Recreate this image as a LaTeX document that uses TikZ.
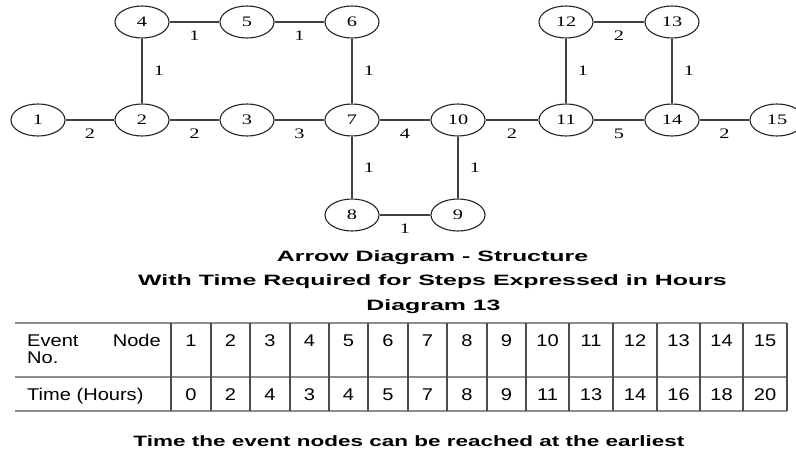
\documentclass[tikz,border=0pt]{standalone}
\usepackage{fontspec}
\setmainfont{Liberation Serif}
\setsansfont{Liberation Sans}
\usepackage{graphicx}
\usetikzlibrary{shapes.geometric}

% horizontally widened text
\newcommand\wideby[2]{\scalebox{#1}[1]{#2}}
\newcommand\evnum[1]{\wideby{1.4}{#1}}
\newcommand\captext[1]{\wideby{1.66}{#1}}
\newcommand\tabtext[1]{\wideby{1.18}{#1}}

\begin{document}
\begin{tikzpicture}[x=1pt,y=-1pt,
  event/.style={draw=black!85, line width=1.1pt, ellipse, minimum width=54pt,
    minimum height=32pt, inner sep=0pt, font=\fontsize{14.5}{14.5}\selectfont},
  link/.style={draw=black!75, line width=1.2pt},
  dur/.style={font=\fontsize{14.5}{14.5}\selectfont, inner sep=0pt},
  hdur/.style={dur, midway, yshift=-14pt},
  vdur/.style={dur, midway, xshift=17pt},
  caption/.style={font=\sffamily\bfseries\fontsize{15}{15}\selectfont, inner sep=0pt, anchor=base},
  cell/.style={font=\sffamily\fontsize{17}{17}\selectfont, inner sep=0pt, anchor=base},
  hrule/.style={draw=black!45, line width=1.2pt},
  vrule/.style={draw=black!70, line width=1.2pt}]

\clip (0,0) rectangle (796,450);
\fill[white] (0,0) rectangle (796,450);

% event nodes
\node[event] (n1)  at (38,120)  {\evnum{1}};
\node[event] (n2)  at (142,120) {\evnum{2}};
\node[event] (n3)  at (247,120) {\evnum{3}};
\node[event] (n4)  at (142,22)  {\evnum{4}};
\node[event] (n5)  at (247,22)  {\evnum{5}};
\node[event] (n6)  at (352,22)  {\evnum{6}};
\node[event] (n7)  at (352,120) {\evnum{7}};
\node[event] (n8)  at (352,215) {\evnum{8}};
\node[event] (n9)  at (458,215) {\evnum{9}};
\node[event] (n10) at (458,120) {\evnum{10}};
\node[event] (n11) at (566,120) {\evnum{11}};
\node[event] (n12) at (566,22)  {\evnum{12}};
\node[event] (n13) at (672,22)  {\evnum{13}};
\node[event] (n14) at (672,120) {\evnum{14}};
\node[event] (n15) at (777,120) {\evnum{15}};

% activities with durations
\path[link] (n1) -- node[hdur] (d12) {\evnum{2}} (n2);
\path[link] (n2) -- node[hdur] (d23) {\evnum{2}} (n3);
\path[link] (n3) -- node[hdur] (d37) {\evnum{3}} (n7);
\path[link] (n7) -- node[hdur] (d710) {\evnum{4}} (n10);
\path[link] (n10) -- node[hdur] (d1011) {\evnum{2}} (n11);
\path[link] (n11) -- node[hdur] (d1114) {\evnum{5}} (n14);
\path[link] (n14) -- node[hdur] (d1415) {\evnum{2}} (n15);
\path[link] (n4) -- node[hdur] (d45) {\evnum{1}} (n5);
\path[link] (n5) -- node[hdur] (d56) {\evnum{1}} (n6);
\path[link] (n12) -- node[hdur] (d1213) {\evnum{2}} (n13);
\path[link] (n8) -- node[hdur] (d89) {\evnum{1}} (n9);
\path[link] (n2) -- node[vdur] (d24) {\evnum{1}} (n4);
\path[link] (n6) -- node[vdur] (d67) {\evnum{1}} (n7);
\path[link] (n7) -- node[vdur] (d78) {\evnum{1}} (n8);
\path[link] (n10) -- node[vdur] (d109) {\evnum{1}} (n9);
\path[link] (n11) -- node[vdur] (d1112) {\evnum{1}} (n12);
\path[link] (n13) -- node[vdur] (d1314) {\evnum{1}} (n14);

% captions
\node[caption] (cap1) at (432.5,261) {\captext{Arrow Diagram - Structure}};
\node[caption] (cap2) at (432.5,285) {\captext{With Time Required for Steps Expressed in Hours}};
\node[caption] (cap3) at (433.5,310) {\captext{Diagram 13}};
\node[caption] (cap4) at (409,446) {\wideby{1.5}{Time the event nodes can be reached at the earliest}};

% table rules
\draw[hrule] (15,323) -- (787,323);
\draw[hrule] (15,377) -- (787,377);
\draw[hrule] (15,411) -- (787,411);
\foreach \x in {171,211,250,290,329,368,408,447,487,526,569,613,657,700,743,787}
  \draw[vrule] (\x,323) -- (\x,411);

% table contents
\node[cell, anchor=base west] (hA) at (27,346) {\tabtext{Event}};
\node[cell, anchor=base east] (hB) at (161,346) {\tabtext{Node}};
\node[cell, anchor=base west] (hC) at (27,363) {\tabtext{No.}};
\node[cell, anchor=base west] (hD) at (27,400) {\tabtext{Time (Hours)}};
\foreach \n/\c/\t in {1/191/0, 2/230.5/2, 3/270/4, 4/309.5/3, 5/348.5/4, 6/388/5,
    7/427.5/7, 8/467/8, 9/506.5/9, 10/547.5/11, 11/591/13, 12/635/14,
    13/678.5/16, 14/721.5/18, 15/765/20} {
  \node[cell] (ev\n) at (\c,346) {\tabtext{\n}};
  \node[cell] (tm\n) at (\c,400) {\tabtext{\t}};
}
\end{tikzpicture}
\end{document}
